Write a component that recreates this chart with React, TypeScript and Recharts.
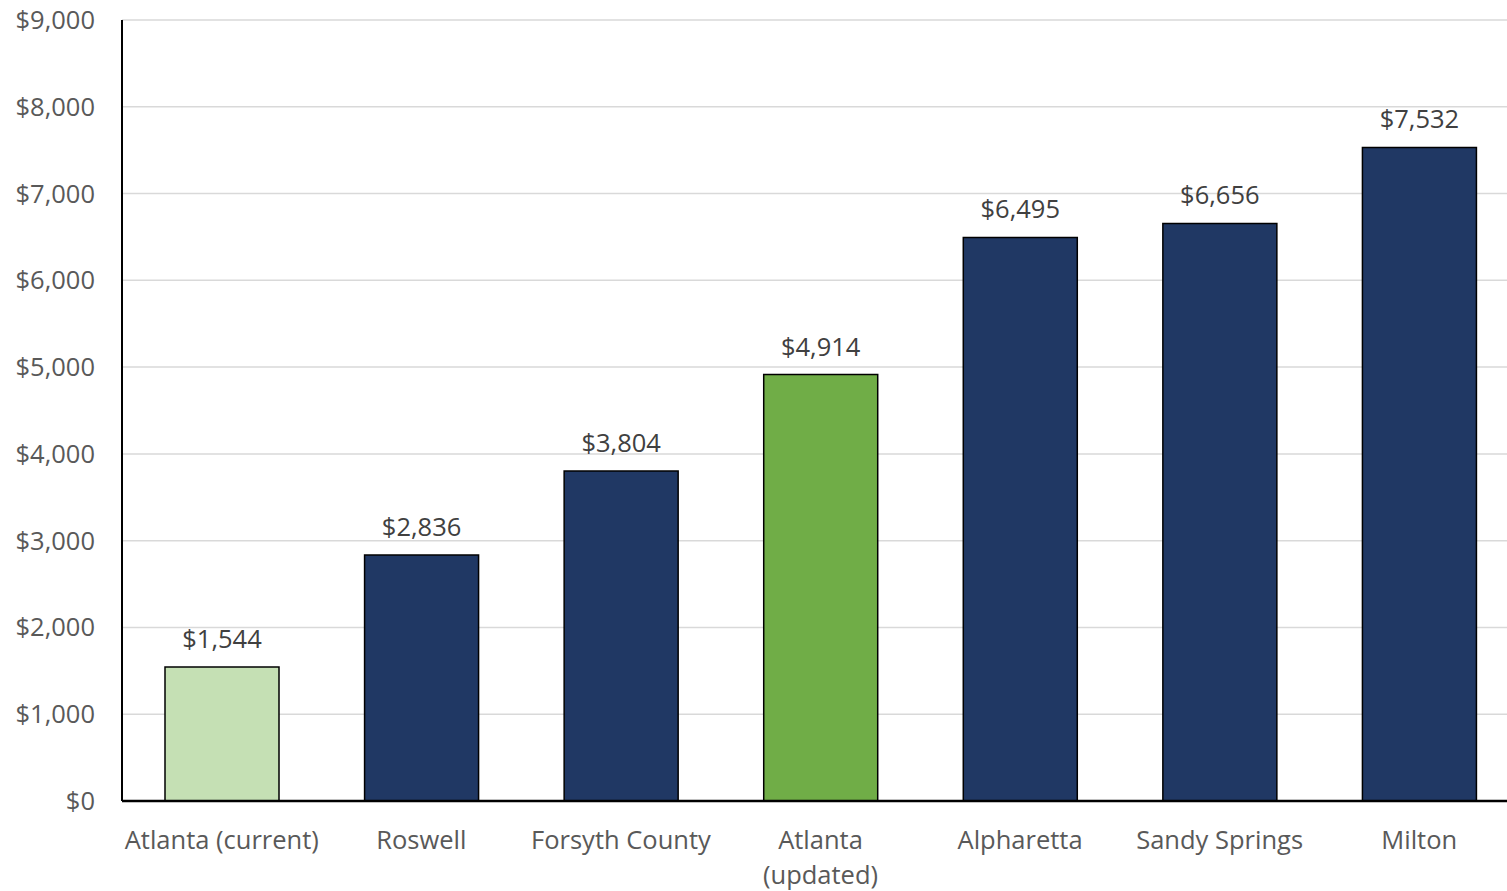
import React from "react";
import { BarChart, Bar, XAxis, YAxis, CartesianGrid, Cell, LabelList } from "recharts";

const categories = [
  "Atlanta (current)",
  "Roswell",
  "Forsyth County",
  "Atlanta\n(updated)",
  "Alpharetta",
  "Sandy Springs",
  "Milton",
];
const values = [1544, 2836, 3804, 4914, 6495, 6656, 7532];
const barColors = ["#C5E0B4", "#203864", "#203864", "#70AD47", "#203864", "#203864", "#203864"];
const yTicks = [0, 1000, 2000, 3000, 4000, 5000, 6000, 7000, 8000, 9000];

const data = categories.map((c, i) => ({ name: c, value: values[i] }));

const FONT = "'Open Sans', sans-serif";
const FS = 25.5;
const fmt = (v: number) => "$" + v.toLocaleString("en-US");

const XTick = (props: any) => {
  const { x, y, payload } = props;
  const lines = String(payload.value).split("\n");
  return (
    <text x={x} y={y} textAnchor="middle" fill="#595959" fontSize={FS} fontFamily={FONT}>
      {lines.map((l: string, i: number) => (
        <tspan key={i} x={x} dy={i === 0 ? 48 : 35}>
          {l}
        </tspan>
      ))}
    </text>
  );
};

export default function App() {
  return (
    <div
      style={{
        position: "fixed",
        left: 0,
        top: 0,
        width: 1507,
        height: 891,
        overflow: "hidden",
        background: "#fff",
      }}
    >
      <BarChart
        width={1519}
        height={891}
        data={data}
        margin={{ top: 20, right: 0, left: 0, bottom: 0 }}
      >
        <CartesianGrid vertical={false} stroke="#D9D9D9" strokeWidth={1.5} />
        <YAxis
          width={122}
          domain={[0, 9000]}
          ticks={yTicks}
          tickFormatter={fmt}
          tickLine={false}
          tickSize={0}
          tickMargin={27}
          axisLine={{ stroke: "#000", strokeWidth: 2 }}
          tick={{ fill: "#595959", fontSize: FS, fontFamily: FONT }}
          interval={0}
        />
        <XAxis
          dataKey="name"
          height={90}
          tickLine={false}
          tickSize={0}
          tickMargin={0}
          axisLine={{ stroke: "#000", strokeWidth: 2.5 }}
          tick={<XTick />}
          interval={0}
        />
        <Bar dataKey="value" barSize={114} stroke="#000" strokeWidth={1.5} isAnimationActive={false}>
          {data.map((d, i) => (
            <Cell key={d.name} fill={barColors[i]} />
          ))}
          <LabelList
            dataKey="value"
            position="top"
            offset={19}
            formatter={(v: any) => fmt(Number(v))}
            fill="#404040"
            fontSize={FS}
            fontFamily={FONT}
          />
        </Bar>
      </BarChart>
    </div>
  );
}
